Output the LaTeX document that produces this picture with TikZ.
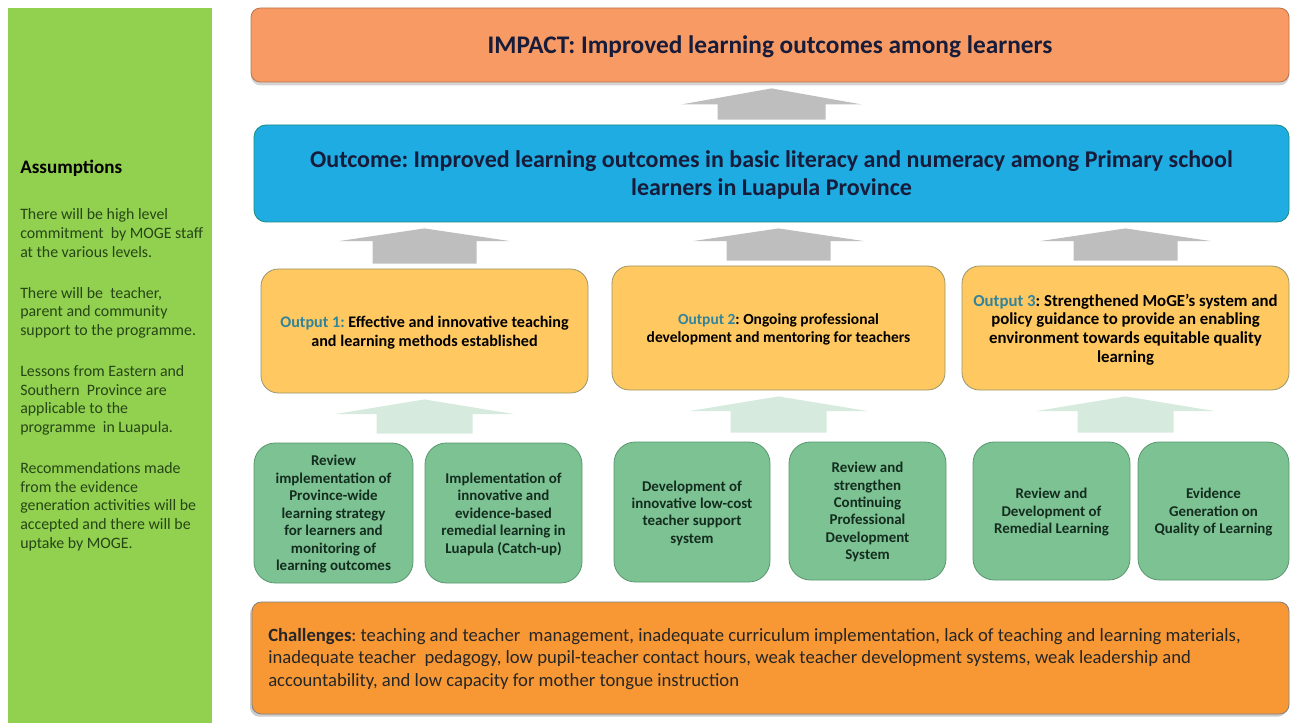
\documentclass[tikz,border=0pt]{standalone}
\usepackage{fontspec}
\setmainfont{Carlito}
\usetikzlibrary{positioning,calc,shadows}
\definecolor{panelgreen}{RGB}{146,208,80}
\definecolor{paneltext}{RGB}{38,70,22}
\definecolor{impactorange}{RGB}{248,154,100}
\definecolor{outcomeblue}{RGB}{30,172,226}
\definecolor{outcomeedge}{RGB}{24,140,125}
\definecolor{navytext}{RGB}{22,28,58}
\definecolor{outputyellow}{RGB}{255,200,96}
\definecolor{outputedge}{RGB}{150,150,110}
\definecolor{outlabel}{RGB}{49,132,155}
\definecolor{actgreen}{RGB}{124,194,147}
\definecolor{actedge}{RGB}{88,150,110}
\definecolor{acttext}{RGB}{20,44,30}
\definecolor{challorange}{RGB}{248,152,52}
\definecolor{arrowgray}{RGB}{190,190,190}
\definecolor{arrowmint}{RGB}{214,235,222}
\frenchspacing

% block arrow: lower point, upper point, head half width, shaft half width, head length, bottom gap, colour
\newcommand{\blockarrow}[7]{%
  \fill[#7] let \p1=(#1), \p2=(#2) in
    (\x1,\y2-4.5pt) -- (\x1+#3,\y2-4.5pt-#5) -- (\x1+#4,\y2-4.5pt-#5)
    -- (\x1+#4,\y1+#6) -- (\x1-#4,\y1+#6) -- (\x1-#4,\y2-4.5pt-#5)
    -- (\x1-#3,\y2-4.5pt-#5) -- cycle;}

\begin{document}
\begin{tikzpicture}[x=0.75pt,y=-0.75pt,
    px/.style 2 args={minimum width=#1*0.75pt, minimum height=#2*0.75pt},
    box/.style={inner sep=0pt, line width=0.6pt, align=center, text depth=0pt},
    impactbox/.style={box, fill=impactorange, draw=impactorange!75!black, rounded corners=7pt,
      drop shadow={shadow xshift=0pt, shadow yshift=-2.5pt, opacity=.35},
      text=navytext, font=\bfseries\fontsize{19}{22}\selectfont},
    outcomebox/.style={box, fill=outcomeblue, draw=outcomeedge, rounded corners=9pt,
      text=navytext, font=\bfseries\fontsize{18}{21}\selectfont},
    outputbox/.style={box, fill=outputyellow, draw=outputedge, rounded corners=13pt,
      font=\bfseries\fontsize{#1}{14}\selectfont},
    actbox/.style={box, fill=actgreen, draw=actedge, rounded corners=16pt,
      text=acttext, font=\bfseries\fontsize{11.2}{13.1}\selectfont},
    challbox/.style={box, fill=challorange, draw=gray, rounded corners=7pt,
      drop shadow={shadow xshift=-1.5pt, shadow yshift=-2pt, opacity=.4}},
  ]
  \useasboundingbox (0,0) rectangle (1291,723);

  % assumptions panel
  \node[fill=panelgreen, inner sep=0pt, px={204}{715}] (panel) at (110,365.5) {};
  \node[anchor=north west, inner sep=0pt, align=left, text=paneltext,
    font=\fontsize{11.9}{14}\selectfont] (assume) at (20,160)
    {{\color{black}\bfseries\fontsize{14.3}{14}\selectfont Assumptions}\\[20.5pt]
     There will be high level\\
     commitment\ \ by MOGE staff\\
     at the various levels.\\[16.75pt]
     There will be\ \ teacher,\\
     parent and community\\
     support to the programme.\\[16.75pt]
     Lessons from Eastern and\\
     Southern\ \ Province are\\
     applicable to the\\
     programme\ \ in Luapula.\\[16.75pt]
     Recommendations made\\
     from the evidence\\
     generation activities will be\\
     accepted and there will be\\
     uptake by MOGE.};

  % impact and outcome
  \node[impactbox, px={1038}{74}] (impact) at (770,45)
    {IMPACT: Improved learning outcomes among learners};
  \node[outcomebox, px={1035}{97}] (outcome) at (771.5,173.5)
    {Outcome: Improved learning outcomes in basic literacy and numeracy among Primary school\\
     learners in Luapula Province};

  % outputs
  \node[outputbox=12.1, px={327}{124}] (out1) at (424.5,331)
    {\textcolor{outlabel}{Output 1:} Effective and innovative teaching\\and learning methods established};
  \node[outputbox=11.6, px={333}{124}] (out2) at (778.5,328)
    {\textcolor{outlabel}{Output 2}: Ongoing professional\\development and mentoring for teachers};
  \node[outputbox=12.6, px={327}{124}] (out3) at (1125.5,328)
    {\textcolor{outlabel}{Output 3}: Strengthened MoGE's system and\\policy guidance to provide an enabling\\
     environment towards equitable quality\\learning};

  % activities
  \node[actbox, px={159}{140}] (a1) at (333.5,513)
    {Review\\implementation of\\Province-wide\\learning strategy\\for learners and\\monitoring of\\learning outcomes};
  \node[actbox, px={157}{140}] (a2) at (503.5,513)
    {Implementation of\\innovative and\\evidence-based\\remedial learning in\\Luapula (Catch-up)};
  \node[actbox, px={156}{140}] (a3) at (692,512)
    {Development of\\innovative low-cost\\teacher support\\system};
  \node[actbox, px={157}{138}] (a4) at (867.5,511)
    {Review and\\strengthen\\Continuing\\Professional\\Development\\System};
  \node[actbox, px={157}{138}] (a5) at (1051.5,511)
    {Review and\\Development of\\Remedial Learning};
  \node[actbox, px={151}{138}] (a6) at (1213.5,511)
    {Evidence\\Generation on\\Quality of Learning};

  % challenges
  \node[challbox, px={1037}{112}] (chall) at (770.5,658) {};
  \node[anchor=west, inner sep=0pt, align=left, text=black!85,
    font=\fontsize{14}{17}\selectfont] (challtext) at (268,659)
    {\textbf{Challenges}: teaching and teacher\ \ management, inadequate curriculum implementation, lack of teaching and learning materials,\\
     inadequate teacher\ \ pedagogy, low pupil-teacher contact hours, weak teacher development systems, weak leadership and\\
     accountability, and low capacity for mother tongue instruction};

  % arrows
  \blockarrow{outcome.north}{impact.south}{67.5pt}{40.5pt}{12pt}{3.75pt}{arrowgray}
  \blockarrow{out1.north}{out1.north |- outcome.south}{64pt}{39pt}{9.5pt}{3.75pt}{arrowgray}
  \blockarrow{out2.north}{out2.north |- outcome.south}{64pt}{39pt}{9.5pt}{3.75pt}{arrowgray}
  \blockarrow{out3.north}{out3.north |- outcome.south}{64pt}{39pt}{9.5pt}{3.75pt}{arrowgray}
  \blockarrow{out1.south |- a1.north}{out1.south}{67pt}{36pt}{11pt}{6.75pt}{arrowmint}
  \blockarrow{out2.south |- a3.north}{out2.south}{67pt}{36pt}{11pt}{6.75pt}{arrowmint}
  \blockarrow{out3.south |- a5.north}{out3.south}{67pt}{36pt}{11pt}{6.75pt}{arrowmint}
\end{tikzpicture}
\end{document}
